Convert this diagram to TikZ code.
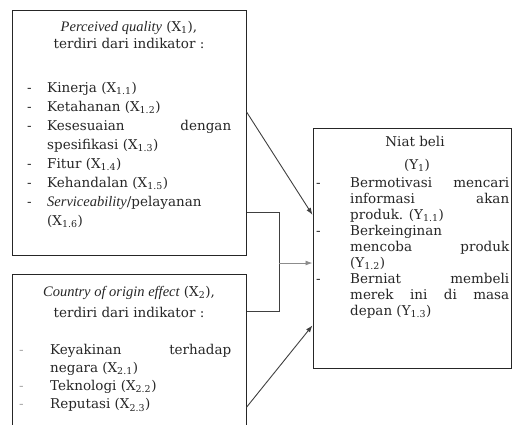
\documentclass[tikz,border=0pt]{standalone}
\usepackage{fontspec}
\setmainfont{DejaVu Serif}
\newfontfamily\libit{Liberation Serif}
\usetikzlibrary{calc,arrows.meta}
\newlength\dashw
\newcommand\dashsym{-}
\newcommand\itmln[1]{\hbox to \hsize{\hbox to \dashw{\dashsym\hss}#1\hfil}}
\newcommand\cntln[1]{\hbox to \hsize{\hskip\dashw #1\hfil}}
\newcommand\lstbox[4]{\vtop{\hsize=#1\relax\dashw=#2\relax\baselineskip=#3\relax\lineskiplimit=-100pt\relax #4}}
\newcommand\sub[1]{\textsubscript{#1}}
\newcommand\itx[1]{{\libit\itshape\fontsize{14.5}{16}\selectfont #1}}
\begin{document}
\begin{tikzpicture}[x=1pt,y=-1pt,
  box/.style={draw=black!85, line width=1pt, inner sep=0pt, rectangle},
  txt/.style={inner sep=0pt, anchor=base west, font=\fontsize{13.5}{16}\selectfont, text=black!85},
  ttl/.style={inner sep=0pt, anchor=base, font=\fontsize{13.5}{16}\selectfont, text=black!85},
  conn/.style={draw=black!75, line width=0.9pt},
  arr/.style={conn, -{Latex[length=7pt,width=5pt]}},
]
\useasboundingbox (0,0) rectangle (513,424);
\clip (0,0) rectangle (513,424);

% boxes
\node[box, minimum width=234pt, minimum height=245pt] (x1) at (129,132.5) {};
\node[box, minimum width=234pt, minimum height=166pt] (x2) at (129,357) {};
\node[box, minimum width=198pt, minimum height=240pt] (y) at (412,248) {};

% X1 text
\node[ttl] (x1t1) at (129,31) {\itx{Perceived quality} (X\sub{1}),};
\node[ttl] (x1t2) at (129,48) {terdiri dari indikator :};
\node[txt] (x1l) at (27,92) {\lstbox{204pt}{20pt}{19pt}{%
  \itmln{Kinerja (X\sub{1.1})}%
  \itmln{Ketahanan (X\sub{1.2})}%
  \itmln{Kesesuaian\hfill dengan}%
  \cntln{spesifikasi (X\sub{1.3})}%
  \itmln{Fitur (X\sub{1.4})}%
  \itmln{Kehandalan (X\sub{1.5})}%
  \itmln{\itx{Serviceability}/pelayanan}%
  \cntln{(X\sub{1.6})}}};

% X2 text
\node[ttl] (x2t1) at (129,296) {\itx{Country of origin effect} (X\sub{2}),};
\node[ttl] (x2t2) at (129,317) {terdiri dari indikator :};
\node[txt] (x2l) at (19,354) {\renewcommand\dashsym{\textcolor{black!35}{-}}\lstbox{212pt}{31pt}{18.3pt}{%
  \itmln{Keyakinan\hfill terhadap}%
  \cntln{negara (X\sub{2.1})}%
  \itmln{Teknologi (X\sub{2.2})}%
  \itmln{Reputasi (X\sub{2.3})}}};

% Y text
\node[ttl] (yt1) at (415,146) {Niat beli};
\node[ttl] (yt2) at (417,169) {(Y\sub{1})};
\node[txt] (yl) at (316,187) {\lstbox{193pt}{34pt}{16.1pt}{%
  \itmln{Bermotivasi\hfill mencari}%
  \cntln{informasi\hfill akan}%
  \cntln{produk. (Y\sub{1.1})}%
  \itmln{Berkeinginan}%
  \cntln{mencoba\hfill produk}%
  \cntln{(Y\sub{1.2})}%
  \itmln{Berniat\hfill membeli}%
  \cntln{merek\hfill ini\hfill di\hfill masa}%
  \cntln{depan (Y\sub{1.3})}}};

% connectors
\coordinate (bt) at (279,212);
\coordinate (bb) at (279,311);
\coordinate (bm) at (279,263);
\draw[arr] ($(x1.north east)!0.416!(x1.south east)$) -- ($(y.north west)!0.3625!(y.south west)$);
\draw[conn] (x1.east |- bt) -- (bt) -- (bb) -- (x2.east |- bb);
\draw[arr, draw=black!45] (bm) -- (y.west |- bm);
\draw[arr] ($(x2.north east)!0.801!(x2.south east)$) -- ($(y.north west)!0.821!(y.south west)$);
\end{tikzpicture}
\end{document}
